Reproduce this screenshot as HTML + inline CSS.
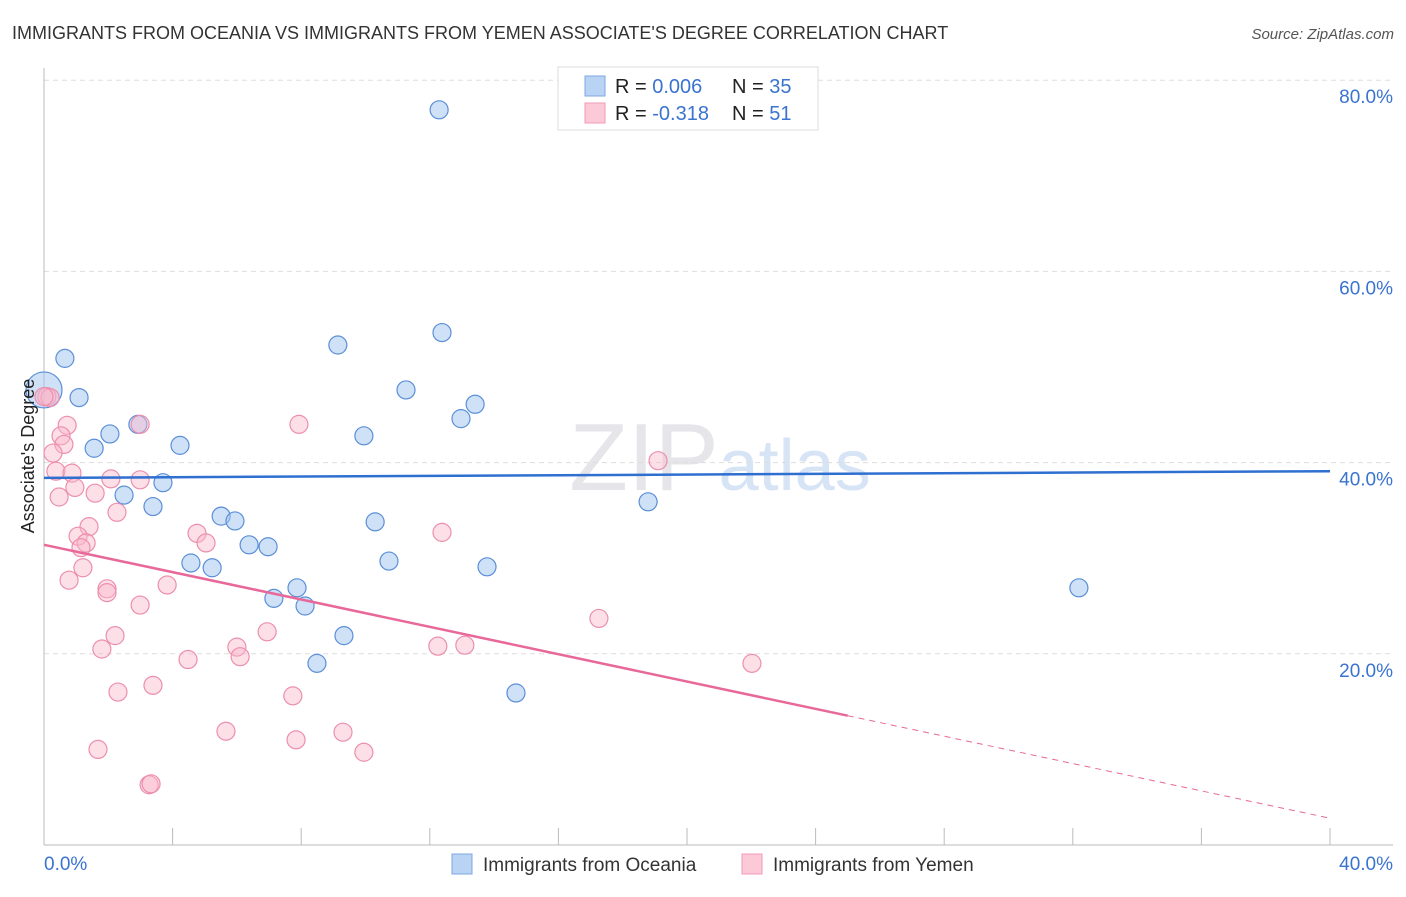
<!DOCTYPE html>
<html><head><meta charset="utf-8"><style>
body{margin:0;background:#fff;font-family:"Liberation Sans",sans-serif;}
svg text{font-family:"Liberation Sans",sans-serif;}
</style></head><body>
<svg id="c" width="1406" height="892">
<text x="12" y="39" font-size="18" fill="#333">IMMIGRANTS FROM OCEANIA VS IMMIGRANTS FROM YEMEN ASSOCIATE'S DEGREE CORRELATION CHART</text>
<text x="1394" y="39" font-size="15" fill="#555" font-style="italic" text-anchor="end">Source: ZipAtlas.com</text>
<text x="720" y="490" font-size="96" fill="#e6e6ea" text-anchor="middle" font-family="Liberation Serif">ZIP<tspan fill="#d6e4f5" font-family="Liberation Sans" font-size="72">atlas</tspan></text>
<g id="grid"></g><g id="pts"></g><g id="trend"></g>
<text transform="translate(34,456) rotate(-90)" font-size="18" fill="#222" text-anchor="middle">Associate's Degree</text>
<g>
<rect x="558" y="67" width="260" height="63" fill="#fff" stroke="#ddd"/>
<rect x="585" y="76" width="20" height="20" fill="#b9d3f5" stroke="#7ea7e0"/>
<rect x="585" y="103" width="20" height="20" fill="#fcc9d8" stroke="#f09ab5"/>
<text x="615" y="93" font-size="20" fill="#222">R = <tspan fill="#3a73d0">0.006</tspan></text>
<text x="732" y="93" font-size="20" fill="#222">N = <tspan fill="#3a73d0">35</tspan></text>
<text x="615" y="120" font-size="20" fill="#222">R = <tspan fill="#3a73d0">-0.318</tspan></text>
<text x="732" y="120" font-size="20" fill="#222">N = <tspan fill="#3a73d0"> 51</tspan></text>
</g>
<g>
<rect x="452" y="854" width="20" height="20" fill="#b9d3f5" stroke="#7ea7e0"/>
<text x="483" y="871" font-size="19" fill="#333">Immigrants from Oceania</text>
<rect x="742" y="854" width="20" height="20" fill="#fcc9d8" stroke="#f09ab5"/>
<text x="773" y="871" font-size="19" fill="#333">Immigrants from Yemen</text>
</g>
</svg>
<script>
const yTicks=[20,40,60,80];
const xTickLabels=["0.0%","40.0%"];
const oceaniaX=[0,0.65,1.09,2.05,1.56,2.92,4.23,3.70,2.49,3.39,5.51,5.94,6.38,6.97,4.57,5.23,7.87,7.15,8.12,9.33,8.49,9.14,9.95,10.30,10.73,11.26,12.38,12.97,13.41,13.78,14.68,12.29,18.13,18.79,32.19];
const oceaniaY=[47.6,50.9,46.8,43.0,41.5,44.0,41.8,37.9,36.6,35.4,34.4,33.9,31.4,31.2,29.5,29.0,26.9,25.8,25.0,21.9,19.0,52.3,42.8,33.8,29.7,47.6,53.6,44.6,46.1,29.1,15.9,76.9,79.8,35.9,26.9];
const yemenX=[0.09,0.19,0.72,0.53,0.62,0.28,0.37,0.87,0.96,1.59,0.47,2.99,2.08,2.99,2.27,1.40,1.06,1.31,1.15,1.21,0.78,1.96,1.96,3.83,2.99,4.76,5.04,7.93,12.38,19.10,2.21,1.80,4.48,6.00,6.10,6.94,12.25,13.09,17.26,22.02,2.30,3.39,7.74,1.68,5.66,7.84,9.30,9.95,3.27,3.33,0];
const yemenY=[46.9,46.8,43.9,42.8,41.9,41.0,39.1,38.9,37.4,36.8,36.4,44.0,38.3,38.2,34.8,33.3,32.3,31.6,31.1,29.0,27.7,26.8,26.4,27.2,25.1,32.6,31.6,44.0,32.7,40.2,21.9,20.5,19.4,20.7,19.7,22.3,20.8,20.9,23.7,19.0,16.0,16.7,15.6,10.0,11.9,11.0,11.8,9.7,6.3,6.4,46.9];
const oceaniaTrend=[38.4,39.1];
const yemenTrend=[31.4,2.8];
const yemenSolidEnd=25;
const NS="http://www.w3.org/2000/svg";
const X=v=>44+v*32.15, Y=v=>845-v*9.56;
function mk(t,a,p){const e=document.createElementNS(NS,t);for(const k in a)e.setAttribute(k,a[k]);p.appendChild(e);return e;}
const g=document.getElementById('grid');
yTicks.forEach(t=>{
 const l=mk('line',{x1:44,x2:1393,y1:Y(t),y2:Y(t),stroke:'#ddd','stroke-dasharray':'5,4'},g);
 
 
 const tx=mk('text',{x:1393,y:Y(t)+23,'font-size':19,fill:'#3a73d0','text-anchor':'end'},g);
 tx.textContent=t.toFixed(1)+'%';
 
 
});
const ax=mk('line',{x1:44,x2:44,y1:68,y2:845,stroke:'#bbb'},g);


const bx=mk('line',{x1:44,x2:1393,y1:845,y2:845,stroke:'#bbb'},g);


for(let i=0;i<=10;i++){const t=mk('line',{x1:X(i*4),x2:X(i*4),y1:828,y2:845,stroke:'#bbb'},g);
 
 }
xTickLabels.forEach((s,i)=>{const t=mk('text',{x:i?1393:44,y:870,'font-size':19,fill:'#3a73d0','text-anchor':i?'end':'start'},g);t.textContent=s;
 
 });
const p=document.getElementById('pts');
oceaniaX.forEach((x,i)=>{const c=mk('circle',{cx:X(x),cy:Y(oceaniaY[i]),r:i==0?18:9,fill:'rgba(160,195,240,0.5)',stroke:'#5b8fd8','stroke-width':1.2},p);
 
 });
yemenX.forEach((x,i)=>{const c=mk('circle',{cx:X(x),cy:Y(yemenY[i]),r:9,fill:'rgba(250,185,205,0.45)',stroke:'#ec8fae','stroke-width':1.2},p);
 
 });
const tr=document.getElementById('trend');
const bl=mk('line',{x1:X(0),y1:Y(oceaniaTrend[0]),x2:X(40),y2:Y(oceaniaTrend[1]),stroke:'#2f6fd0','stroke-width':2.5},tr);


const yAt=x=>yemenTrend[0]+(yemenTrend[1]-yemenTrend[0])*x/40;
const pl=mk('line',{x1:X(0),y1:Y(yAt(0)),x2:X(yemenSolidEnd),y2:Y(yAt(yemenSolidEnd)),stroke:'#e8689a','stroke-width':2.5},tr);


const pd=mk('line',{x1:X(yemenSolidEnd),y1:Y(yAt(yemenSolidEnd)),x2:X(40),y2:Y(yAt(40)),stroke:'#e8689a','stroke-width':1,'stroke-dasharray':'6,5'},tr);


</script>
</body></html>
